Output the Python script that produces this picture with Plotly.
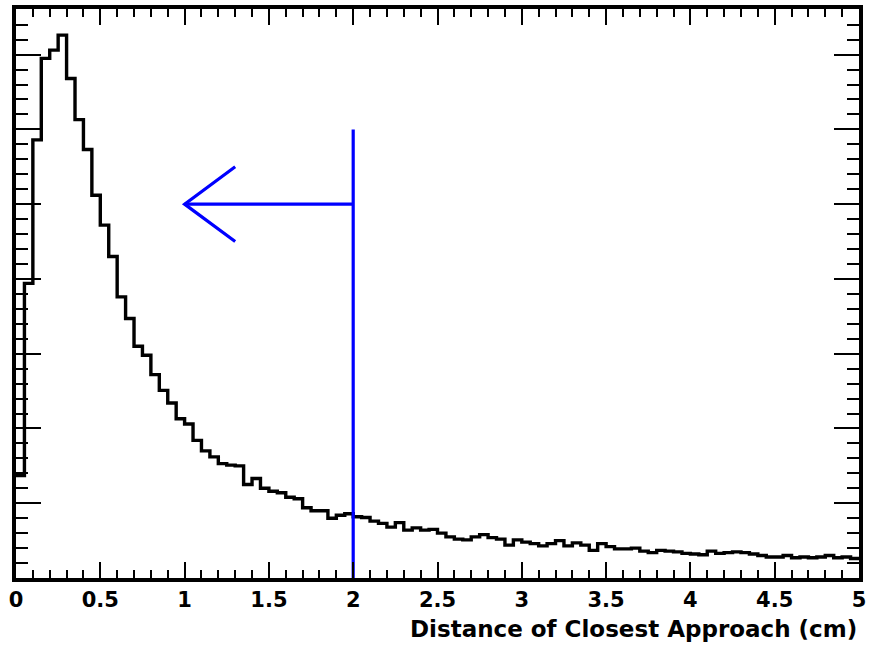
import plotly.graph_objects as go

# ---- data ----
bin_low = 0.0
bin_width = 0.05
counts = [137, 394, 586, 695, 706, 726, 668, 613, 573, 512,
          472, 430, 376, 347, 310, 298, 272, 251, 234, 213,
          206, 184, 170, 162, 153, 151, 150, 125, 133, 120,
          116, 114, 108, 106, 94, 90, 90, 80, 84, 86,
          82, 81, 76, 73, 68, 74, 64, 67, 64, 65,
          60, 55, 52, 51, 55, 58, 54, 52, 44, 51,
          48, 46, 43, 46, 50, 43, 47, 44, 37, 46,
          42, 39, 39, 40, 36, 34, 37, 36, 35, 33,
          32, 31, 36, 33, 34, 35, 34, 32, 30, 28,
          28, 30, 27, 28, 27, 28, 30, 27, 28, 26]
x_tick_vals = [0, 0.5, 1, 1.5, 2, 2.5, 3, 3.5, 4, 4.5, 5]
x_tick_text = ["0", "0.5", "1", "1.5", "2", "2.5", "3", "3.5", "4", "4.5", "5"]
x_title = "Distance of Closest Approach (cm)"

# cut line and arrow (data coordinates)
cut_value = 2.0
cut_top = 600
arrow_tip_x = 1.0
arrow_y = 500
arrow_arm_x = 1.3
arrow_arm_dy = 50

y_max = 761

# ---- figure ----
edges = [bin_low + i * bin_width for i in range(len(counts) + 1)]
ys = counts + [counts[-1]]

fig = go.Figure()
fig.add_trace(go.Scatter(x=edges, y=ys, mode="lines", line_shape="hv",
                         line=dict(color="black", width=3.4), hoverinfo="skip"))

blue = dict(color="#0000ff", width=3.2)
fig.add_trace(go.Scatter(x=[cut_value, cut_value], y=[0, cut_top], mode="lines", line=blue))
fig.add_trace(go.Scatter(x=[cut_value, arrow_tip_x], y=[arrow_y, arrow_y], mode="lines", line=blue))
fig.add_trace(go.Scatter(x=[arrow_arm_x, arrow_tip_x, arrow_arm_x],
                         y=[arrow_y + arrow_arm_dy, arrow_y, arrow_y - arrow_arm_dy],
                         mode="lines", line=blue))

font_family = "DejaVu Sans, Liberation Sans, Arial, sans-serif"

fig.update_layout(
    width=871, height=651,
    margin=dict(l=16, r=8, t=5, b=73),
    paper_bgcolor="white", plot_bgcolor="white",
    showlegend=False,
    font=dict(family=font_family, color="black"),
    xaxis=dict(range=[0, 5], tickmode="array", tickvals=x_tick_vals,
               ticktext=["<b>" + t + "</b>" for t in x_tick_text],
               ticks="inside", ticklen=16, tickwidth=1.5, tickcolor="black",
               minor=dict(dtick=0.1, ticks="inside", ticklen=8, tickwidth=1.5, tickcolor="black"),
               showline=True, linewidth=3.5, linecolor="black", mirror="allticks",
               showgrid=False, zeroline=False,
               tickfont=dict(size=21, family=font_family)),
    yaxis=dict(range=[0, y_max], tick0=0, dtick=100,
               ticks="inside", ticklen=25, tickwidth=1.5, tickcolor="black",
               minor=dict(dtick=20, ticks="inside", ticklen=12, tickwidth=1.5, tickcolor="black"),
               showline=True, linewidth=3.5, linecolor="black", mirror="allticks",
               showgrid=False, zeroline=False, showticklabels=False),
    annotations=[dict(text="<b>" + x_title + "</b>", xref="paper", yref="paper", x=1.0, y=-0.063,
                      xanchor="right", yanchor="top", showarrow=False,
                      font=dict(size=23, family=font_family))],
)

fig.write_html("out.html")
